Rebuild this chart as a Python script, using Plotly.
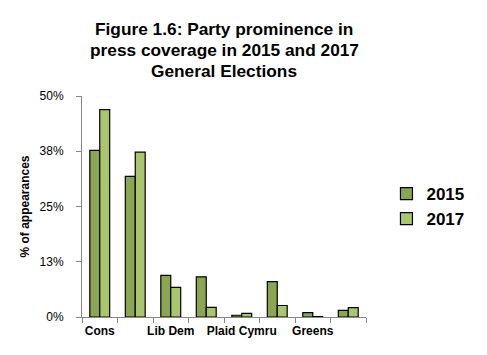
import plotly.graph_objects as go

parties = ["Cons", "Labour", "Lib Dem", "UKIP", "Plaid Cymru", "SNP", "Greens", "Other"]
tick_labels = ["Cons", "", "Lib Dem", "", "Plaid Cymru", "", "Greens", ""]
share_2015 = [37.7, 31.8, 9.4, 9.1, 0.4, 8.0, 1.0, 1.5]
share_2017 = [46.9, 37.3, 6.7, 2.2, 0.8, 2.6, 0.1, 2.1]
y_tickvals = [0, 12.5, 25, 37.5, 50]
y_ticktext = ["0%", "13%", "25%", "38%", "50%"]
title_lines = ["Figure 1.6: Party prominence in", "press coverage in 2015 and 2017", "General Elections"]

FONT = "Liberation Sans, Arial, Helvetica, sans-serif"
# page has an 8px body margin; figure is sized to fit the window
L, R, T, B, W, H = 74, 121, 88, 38, 479, 347
plot_h = H - T - B
title_px = [21, 41.5, 63]  # vertical centres of title lines, px from figure top

fig = go.Figure()
fig.add_trace(go.Bar(name="2015", x=parties, y=share_2015,
                     marker=dict(color="#8ba652", line=dict(color="black", width=1.2))))
fig.add_trace(go.Bar(name="2017", x=parties, y=share_2017,
                     marker=dict(color="#a9c66e", line=dict(color="black", width=1.2))))

annotations = [dict(
    text="<b>" + line + "</b>", xref="paper", yref="paper",
    x=0.5, xanchor="center", y=(H - B - py) / plot_h, yanchor="middle",
    showarrow=False, align="center",
    font=dict(size=17.3, family=FONT, color="black"),
) for line, py in zip(title_lines, title_px)]

fig.update_layout(
    width=W, height=H,
    margin=dict(l=L, r=R, t=T, b=B, autoexpand=False),
    paper_bgcolor="white", plot_bgcolor="white",
    barmode="group", bargap=0.44, bargroupgap=0,
    font=dict(family=FONT, color="black"),
    legend=dict(x=1.072, y=0.5, xanchor="left", yanchor="middle",
                font=dict(size=17, family=FONT, color="black", weight="bold"),
                itemwidth=30, tracegroupgap=2, bgcolor="rgba(0,0,0,0)"),
    showlegend=True,
    annotations=annotations,
)
fig.update_xaxes(
    tickmode="array", tickvals=parties, ticktext=tick_labels, tickangle=0,
    tickson="boundaries", ticks="outside", ticklen=5, tickcolor="#888888",
    ticklabelstandoff=3,
    showline=True, linecolor="#888888", linewidth=1, automargin=False,
    tickfont=dict(size=12, family=FONT, color="black", weight="bold"),
    showgrid=False,
)
fig.update_yaxes(
    range=[0, 50], tickmode="array", tickvals=y_tickvals, ticktext=y_ticktext,
    ticks="outside", ticklen=5, tickcolor="#888888", ticklabelstandoff=10,
    showline=True, linecolor="#888888", linewidth=1, automargin=False,
    tickfont=dict(size=12, family=FONT, color="black"),
    showgrid=False, zeroline=False,
    title=dict(text="<b>% of appearances</b>", font=dict(size=12, family=FONT, color="black"), standoff=7),
)

fig.write_html("out.html")
